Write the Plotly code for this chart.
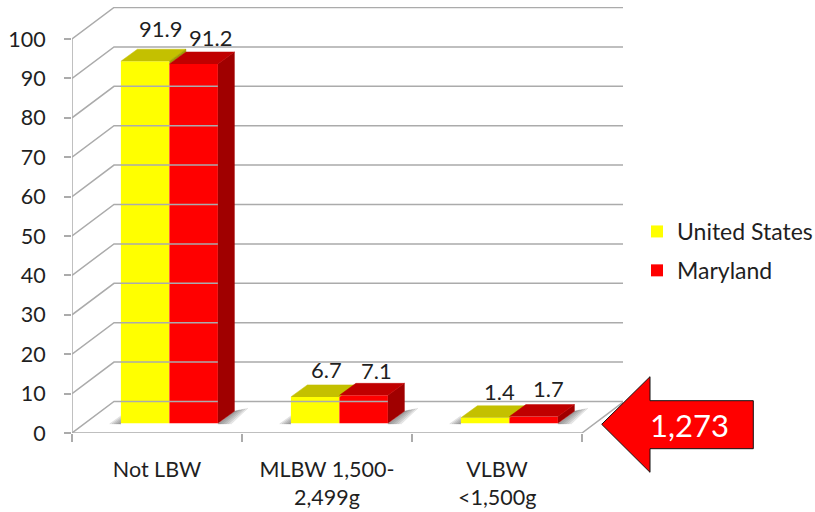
import plotly.graph_objects as go

categories = ["Not LBW", "MLBW 1,500-\n2,499g", "VLBW\n<1,500g"]
us_values = [91.9, 6.7, 1.4]
md_values = [91.2, 7.1, 1.7]
series_names = ["United States", "Maryland"]
y_ticks = [0, 10, 20, 30, 40, 50, 60, 70, 80, 90, 100]
callout_text = "1,273"

# ---- geometry / style
W, H = 815, 512
L, R, T, B = 72, 192, 7, 79
PXX, PXY = 170.0, 3.94           # pixels per x unit / per y unit
dx = lambda p: p / PXX
dy = lambda p: p / PXY
WALL_X, WALL_Y = dx(42), dy(31.5)    # depth of chart box
BASE_X, BASE_Y = dx(12.4), dy(9.7)   # front of the bars inside the box
BAR_X, BAR_Y = dx(16.5), dy(12)      # depth of a bar
BAR_W = dx(48.5)
GRID = "#ABABAB"
FONT = "Lato"
TXT = "#1f1f1f"
COLORS = [
    dict(front="#FFFF00", top="#C4C000", side="#A0A000"),
    dict(front="#FF0000", top="#C00000", side="#A00000"),
]
series = [us_values, md_values]

fig = go.Figure()

def poly(xs, ys, color):
    fig.add_trace(go.Scatter(x=xs, y=ys, mode="lines", fill="toself", fillcolor=color,
                             line=dict(color=color, width=0.5), hoverinfo="skip",
                             showlegend=False, cliponaxis=False))

def seg(xs, ys):
    fig.add_trace(go.Scatter(x=xs, y=ys, mode="lines", line=dict(color=GRID, width=1.5),
                             hoverinfo="skip", showlegend=False, cliponaxis=False))

# back wall, side wall
for v in y_ticks:
    seg([0, WALL_X, 3 + WALL_X], [v, v + WALL_Y, v + WALL_Y])
seg([0, 0], [0, 100])
seg([0, 3, 3 + WALL_X], [0, 0, WALL_Y])

# bars
n = len(categories)
for i in range(n):
    left = i + 0.5 + BASE_X - BAR_W
    right = i + 0.5 + BASE_X + BAR_W
    # soft floor shadow
    for e in (3, 6, 9, 12, 15):
        a = "rgba(90,90,90,0.15)"
        poly([left, left - dx(e * 0.75), left],
             [BASE_Y - dy(0.5), BASE_Y - dy(0.5), BASE_Y + dy(e * 0.5)], a)
        poly([right, right + dx(e * 0.9), right + BAR_X + dx(e * 0.9), right + BAR_X],
             [BASE_Y - dy(0.5), BASE_Y - dy(0.5), BASE_Y + BAR_Y + dy(e * 0.2), BASE_Y + BAR_Y], a)

for i in range(n):
    x0 = i + 0.5 + BASE_X - BAR_W
    x1 = i + 0.5 + BASE_X
    x2 = i + 0.5 + BASE_X + BAR_W
    us, md = us_values[i], md_values[i]
    # yellow top
    poly([x0, x0 + BAR_X, x1 + BAR_X, x1],
         [BASE_Y + us, BASE_Y + us + BAR_Y, BASE_Y + us + BAR_Y, BASE_Y + us], COLORS[0]["top"])
    # visible sliver of the yellow side when it rises above the red bar
    if us > md:
        poly([x1, x1 + BAR_X, x1 + BAR_X, x1],
             [BASE_Y + us, BASE_Y + us + BAR_Y, BASE_Y + md + BAR_Y, BASE_Y + md], COLORS[0]["side"])
    # red side + top
    poly([x2, x2 + BAR_X, x2 + BAR_X, x2],
         [BASE_Y, BASE_Y + BAR_Y, BASE_Y + md + BAR_Y, BASE_Y + md], COLORS[1]["side"])
    poly([x1, x1 + BAR_X, x2 + BAR_X, x2],
         [BASE_Y + md, BASE_Y + md + BAR_Y, BASE_Y + md + BAR_Y, BASE_Y + md], COLORS[1]["top"])

# front faces
for s, (vals, name) in enumerate(zip(series, series_names)):
    off = -BAR_W / 2 if s == 0 else BAR_W / 2
    fig.add_trace(go.Bar(x=[i + 0.5 + BASE_X + off for i in range(n)], y=vals, base=BASE_Y,
                         width=BAR_W, name=name, legendgroup=name,
                         marker=dict(color=COLORS[s]["front"], line=dict(width=0)),
                         hoverinfo="skip", cliponaxis=False))

# value labels
label_shift = [[(-1, 21), (0, 14)], [(-5, 15), (-4, 13)], [(-2, 14), (-2, 16)]]
annos = []
for i in range(n):
    for s in range(2):
        v = series[s][i]
        off = -BAR_W / 2 if s == 0 else BAR_W / 2
        sx, sy = label_shift[i][s]
        annos.append(dict(x=i + 0.5 + BASE_X + off + BAR_X, y=BASE_Y + v + BAR_Y, xref="x", yref="y",
                          text=f"{v:.1f}", showarrow=False, xshift=sx, yshift=sy,
                          xanchor="center", yanchor="middle",
                          font=dict(family=FONT, size=22, color=TXT)))

# second lines of the category labels
ph, pw = H - T - B, W - L - R
for i, c in enumerate(categories):
    parts = c.split("\n")
    if len(parts) > 1:
        annos.append(dict(x=i + 0.5, xref="x", y=-(497 - 433) / ph, yref="paper",
                          text=parts[1], showarrow=False, xanchor="center", yanchor="middle",
                          font=dict(family=FONT, size=21.5, color=TXT)))

# callout arrow
def px(p): return (p - L) / pw
def py(p): return (H - B - p) / ph
arrow = [(601.7, 424.3), (650, 376.7), (650, 400.7), (753.3, 400.7), (753.3, 448.7), (650, 448.7), (650, 472.3)]
path = "M" + " L".join(f"{px(a)},{py(b)}" for a, b in arrow) + " Z"
annos.append(dict(x=px(689), y=py(425), xref="paper", yref="paper", text=callout_text, showarrow=False,
                  xanchor="center", yanchor="middle", font=dict(family=FONT, size=31, color="white")))

fig.update_layout(
    width=W, height=H, margin=dict(l=L, r=R, t=T, b=B, autoexpand=False),
    paper_bgcolor="white", plot_bgcolor="white",
    barmode="overlay", showlegend=True, annotations=annos,
    shapes=[dict(type="path", path=path, xref="paper", yref="paper", fillcolor="#FF0000",
                 line=dict(color="#111111", width=1), layer="above")],
    legend=dict(x=px(637), y=py(210), xanchor="left", yanchor="top", tracegroupgap=6,
                bgcolor="rgba(0,0,0,0)", font=dict(family=FONT, size=23, color=TXT)),
    xaxis=dict(range=[0, pw / PXX], showgrid=False, zeroline=False, showline=False,
               tickmode="array", tickvals=[i + 0.5 for i in range(n)],
               ticktext=[c.split("\n")[0] for c in categories], ticks="", ticklabelstandoff=21,
               tickfont=dict(family=FONT, size=21.5, color=TXT), tickangle=0,
               minor=dict(tickmode="array", tickvals=[0, 1, 2, 3], ticks="outside", ticklen=8,
                          tickcolor=GRID, tickwidth=1.5, showgrid=False)),
    yaxis=dict(range=[0, ph / PXY], showgrid=False, zeroline=False, showline=False,
               tickmode="array", tickvals=y_ticks, ticks="outside", ticklen=7, tickcolor=GRID,
               tickwidth=1.5, ticklabelstandoff=14,
               tickfont=dict(family=FONT, size=21.5, color=TXT)),
)

fig.write_html("out.html", config=dict(displayModeBar=False),
               post_script="document.body.style.margin='0';document.body.style.overflow='hidden';")
